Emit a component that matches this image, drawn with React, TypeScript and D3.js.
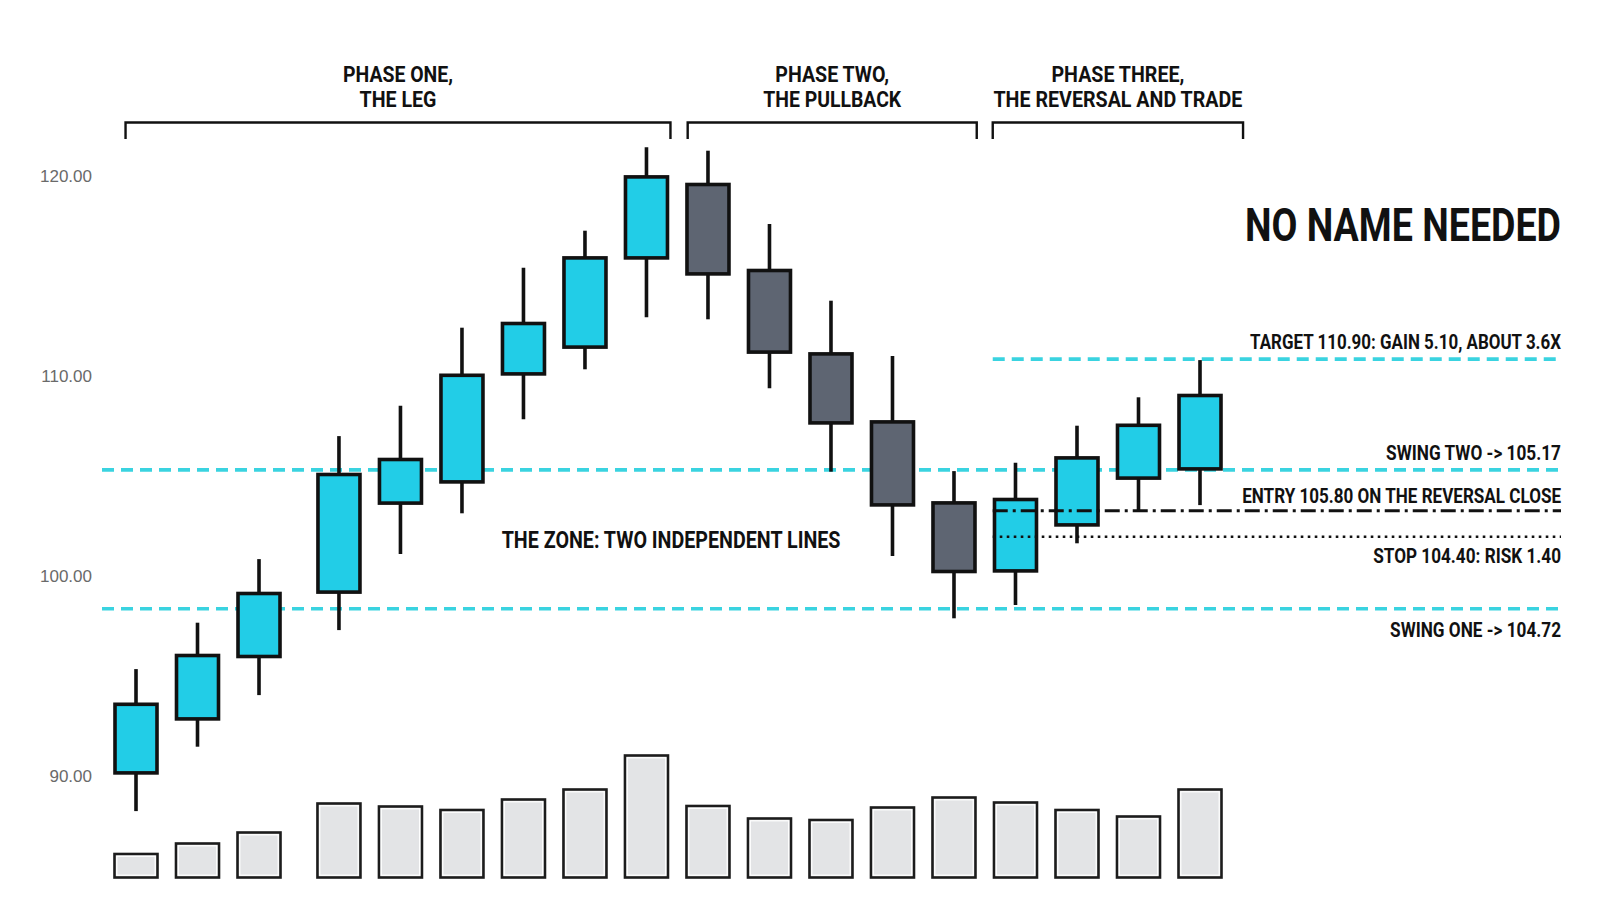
import React, { useEffect, useLayoutEffect, useRef } from "react";
import * as d3 from "d3";

// ---------- data ----------
const slots = [0, 1, 2, 3.3, 4.3, 5.3, 6.3, 7.3, 8.3, 9.3, 10.3, 11.3, 12.3, 13.3, 14.3, 15.3, 16.3, 17.3];
const opens = [90.08, 92.78, 95.9, 99.12, 103.57, 104.63, 110.03, 111.37, 115.83, 119.62, 115.32, 111.15, 107.75, 103.7, 100.18, 102.48, 104.82, 105.28];
const highs = [95.33, 97.65, 100.83, 106.98, 108.5, 112.4, 115.4, 117.25, 121.42, 121.25, 117.58, 113.75, 110.98, 105.23, 105.65, 107.5, 108.92, 110.78];
const lows = [88.23, 91.45, 94.03, 97.28, 101.08, 103.12, 107.82, 110.32, 112.92, 112.82, 109.37, 105.2, 100.98, 97.87, 98.53, 101.62, 103.28, 103.53];
const closes = [93.63, 96.07, 99.17, 105.12, 105.87, 110.08, 112.67, 115.95, 120.0, 115.03, 111.12, 107.58, 103.48, 100.15, 103.87, 105.95, 107.58, 109.07];
const volumes = [1175, 1700, 2250, 3700, 3550, 3375, 3900, 4400, 6100, 3575, 2950, 2875, 3500, 4000, 3750, 3375, 3050, 4400];

const yTicks = [90, 100, 110, 120];

const phaseLine1 = ["PHASE ONE,", "PHASE TWO,", "PHASE THREE,"];
const phaseLine2 = ["THE LEG", "THE PULLBACK", "THE REVERSAL AND TRADE"];
const phaseStart = [-0.17, 8.97, 13.93];
const phaseEnd = [8.69, 13.67, 18.0];

const swingTwo = 105.29;
const swingOne = 98.35;
const targetLevel = 110.83;
const entryLevel = 103.25;
const stopLevel = 101.95;

const title = "NO NAME NEEDED";
const zoneLabel = "THE ZONE: TWO INDEPENDENT LINES";
const targetLabel = "TARGET 110.90: GAIN 5.10, ABOUT 3.6X";
const swingTwoLabel = "SWING TWO -> 105.17";
const entryLabel = "ENTRY 105.80 ON THE REVERSAL CLOSE";
const stopLabel = "STOP 104.40: RISK 1.40";
const swingOneLabel = "SWING ONE -> 104.72";

// ---------- styling ----------
const W = 1600;
const H = 914;
const CYAN = "#22cde7";
const CYAN_LINE = "#3ad3e0";
const DARK = "#5e6572";
const INK = "#111111";
const VOL_FILL = "#e3e4e6";
const FONT = "'Liberation Sans Narrow', 'Arial Narrow', Roboto, 'Liberation Sans', Arial, sans-serif";
const AXIS_FONT = "'Liberation Sans', Arial, sans-serif";

type FitProps = {
  x: number;
  y: number;
  width: number;
  size: number;
  anchor: "start" | "middle" | "end";
  text: string;
};

// Bold condensed label: horizontally scaled so that it spans the given width.
function FitText({ x, y, width, size, anchor, text }: FitProps) {
  const ref = useRef<SVGTextElement>(null);
  const gref = useRef<SVGGElement>(null);
  useLayoutEffect(() => {
    const el = ref.current;
    const g = gref.current;
    if (!el || !g) return;
    const natural = el.getComputedTextLength();
    const sx = natural > 0 ? width / natural : 1;
    g.setAttribute("transform", `translate(${x},${y}) scale(${sx},1)`);
  }, [x, y, width, size, text]);
  return (
    <g ref={gref} transform={`translate(${x},${y})`}>
      <text
        ref={ref}
        x={0}
        y={0}
        textAnchor={anchor}
        fontFamily={FONT}
        fontWeight="bold"
        fontSize={size}
        fill={INK}
      >
        {text}
      </text>
    </g>
  );
}

export default function App() {
  useEffect(() => {
    document.body.style.margin = "0";
    document.body.style.background = "#ffffff";
  }, []);

  const x = d3.scaleLinear().domain([0, 17.3]).range([136, 1200]);
  const y = d3.scaleLinear().domain([90, 120]).range([775.7, 175.7]);
  const yVol = d3.scaleLinear().domain([0, 6100]).range([877.5, 755.5]);

  const plotLeft = 102;
  const plotRight = 1561;
  const bodyW = 42;
  const volW = 43;

  const candles = slots.map((s, i) => ({
    s,
    o: opens[i],
    h: highs[i],
    l: lows[i],
    c: closes[i],
    v: volumes[i],
  }));

  const phaseStartX = x(phaseStart[2]);

  const phaseLens1 = [110, 114, 133];
  const phaseLens2 = [77, 138, 249];

  return (
    <svg
      width={W}
      height={H}
      viewBox={`0 0 ${W} ${H}`}
      style={{ position: "absolute", left: 0, top: 0, display: "block", background: "#fff" }}
    >
      <rect x={0} y={0} width={W} height={H} fill="#ffffff" />

      {/* y axis labels */}
      {yTicks.map((t) => (
        <text
          key={t}
          x={92}
          y={y(t)}
          dy="0.35em"
          textAnchor="end"
          fontFamily={AXIS_FONT}
          fontSize={17}
          fill="#6a6a6a"
        >
          {d3.format(".2f")(t)}
        </text>
      ))}

      {/* volume bars */}
      {candles.map((d, i) => (
        <g key={"v" + i}>
          <rect
            x={x(d.s) - volW / 2}
            y={yVol(d.v)}
            width={volW}
            height={yVol(0) - yVol(d.v)}
            fill={VOL_FILL}
            stroke="#1c1c1c"
            strokeWidth={2.6}
          />
          <rect
            x={x(d.s) - volW / 2 + 2.3}
            y={yVol(d.v) + 2.3}
            width={volW - 4.6}
            height={Math.max(0, yVol(0) - yVol(d.v) - 4.6)}
            fill="none"
            stroke="#ffffff"
            strokeWidth={1.2}
          />
        </g>
      ))}

      {/* zone lines */}
      <line x1={plotLeft} x2={plotRight} y1={y(swingTwo)} y2={y(swingTwo)} stroke={CYAN_LINE} strokeWidth={3.6} strokeDasharray="12 7" />
      <line x1={plotLeft} x2={plotRight} y1={y(swingOne)} y2={y(swingOne)} stroke={CYAN_LINE} strokeWidth={3.6} strokeDasharray="12 7" />
      <line x1={phaseStartX} x2={plotRight} y1={y(targetLevel)} y2={y(targetLevel)} stroke={CYAN_LINE} strokeWidth={3.6} strokeDasharray="12 7" />

      {/* candles */}
      {candles.map((d, i) => {
        const up = d.c >= d.o;
        const top = y(Math.max(d.o, d.c));
        const bot = y(Math.min(d.o, d.c));
        const cx = x(d.s);
        return (
          <g key={"c" + i}>
            <line x1={cx} x2={cx} y1={y(d.h)} y2={y(d.l)} stroke={INK} strokeWidth={3.6} />
            <rect
              x={cx - bodyW / 2}
              y={top + 1.2}
              width={bodyW}
              height={bot - top - 2.4}
              fill={up ? CYAN : DARK}
              stroke={INK}
              strokeWidth={3.6}
            />
          </g>
        );
      })}

      {/* entry and stop lines */}
      <line x1={phaseStartX} x2={plotRight} y1={y(entryLevel)} y2={y(entryLevel)} stroke={INK} strokeWidth={3} strokeDasharray="15 5 3 5" />
      <line x1={phaseStartX} x2={plotRight} y1={y(stopLevel)} y2={y(stopLevel)} stroke={INK} strokeWidth={2.6} strokeDasharray="2.6 4.4" />

      {/* phase brackets */}
      {phaseStart.map((s, i) => {
        const x0 = x(s);
        const x1 = x(phaseEnd[i]);
        const cx = (x0 + x1) / 2;
        return (
          <g key={"p" + i}>
            <path
              d={`M${x0},139 L${x0},122.5 L${x1},122.5 L${x1},139`}
              fill="none"
              stroke={INK}
              strokeWidth={2.4}
            />
            <FitText x={cx} y={82} width={phaseLens1[i]} size={22} anchor="middle" text={phaseLine1[i]} />
            <FitText x={cx} y={106.5} width={phaseLens2[i]} size={22} anchor="middle" text={phaseLine2[i]} />
          </g>
        );
      })}

      {/* zone label */}
      <FitText
        x={x(8.7)}
        y={y((swingTwo + swingOne) / 2) + 8.5}
        width={339}
        size={24}
        anchor="middle"
        text={zoneLabel}
      />

      {/* title */}
      <FitText x={plotRight} y={241} width={316} size={46} anchor="end" text={title} />

      {/* right labels */}
      <FitText x={plotRight} y={y(targetLevel) - 10.5} width={311} size={21} anchor="end" text={targetLabel} />
      <FitText x={plotRight} y={y(swingTwo) - 10} width={175} size={21} anchor="end" text={swingTwoLabel} />
      <FitText x={plotRight} y={y(entryLevel) - 8} width={319} size={21} anchor="end" text={entryLabel} />
      <FitText x={plotRight} y={y(stopLevel) + 26} width={188} size={21} anchor="end" text={stopLabel} />
      <FitText x={plotRight} y={y(swingOne) + 28} width={171} size={21} anchor="end" text={swingOneLabel} />
    </svg>
  );
}
